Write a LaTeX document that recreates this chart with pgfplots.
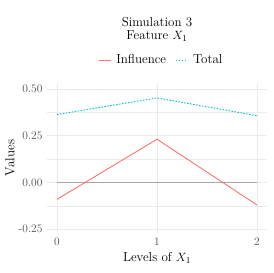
\documentclass[border=0pt]{standalone}
\usepackage{pgfplots}
\pgfplotsset{compat=1.18}
\definecolor{infl}{HTML}{F8766D}
\definecolor{tot}{HTML}{00BFC4}
\definecolor{gridc}{HTML}{EBEBEB}
\definecolor{tickc}{HTML}{4D4D4D}
\definecolor{zeroc}{HTML}{A6A6A6}
\begin{document}
\begin{tikzpicture}
\path[use as bounding box] (-47pt,-40pt) rectangle (226pt,233pt);
\begin{axis}[
  name=ax, at={(0,0)}, anchor=south west,
  scale only axis, width=220pt, height=150pt,
  xmin=-0.1, xmax=2.1, ymin=-0.271, ymax=0.532,
  xtick={0,1,2}, xticklabels={0,1,2},
  ytick={-0.25,0,0.25,0.5}, yticklabels={-0.25,0.00,0.25,0.50},
  minor ytick={-0.125,0.125,0.375},
  grid=both,
  major grid style={gridc, line width=0.9pt},
  minor grid style={gridc, line width=0.45pt},
  axis line style={draw=none},
  tick style={draw=none},
  tick label style={font=\fontsize{11.5}{13}\selectfont, text=tickc},
  xticklabel style={yshift=-1pt},
  yticklabel style={xshift=-1pt},
  xlabel={Levels of $X_1$},
  ylabel={Values},
  label style={font=\fontsize{13}{15}\selectfont},
  xlabel style={at={(axis description cs:0.5,-0.167)}, anchor=center},
  ylabel style={at={(axis description cs:-0.168,0.5)}, anchor=center},
  title={Simulation 3\\Feature $X_1$},
  title style={align=center, at={(axis description cs:0.5,1.318)}, anchor=center, font=\fontsize{13}{12.5}\selectfont},
  legend columns=2,
  legend style={at={(axis description cs:0.52,1.153)}, anchor=center, draw=none, fill=none,
    font=\fontsize{13}{15}\selectfont,
    /tikz/every odd column/.append style={column sep=3pt},
    /tikz/every even column/.append style={column sep=7pt}},
  legend image code/.code={\draw[#1] (0pt,0pt) -- (12pt,0pt);},
]
\addplot[zeroc, line width=1.3pt, forget plot] coordinates {(0,0) (2,0)};
\addplot[infl, line width=0.9pt] coordinates {(0,-0.091) (1,0.231) (2,-0.121)};
\addlegendentry{Influence}
\addplot[tot, line width=0.9pt, dash pattern=on 1.5pt off 1.5pt] coordinates {(0,0.363) (1,0.452) (2,0.357)};
\addlegendentry{Total}
\end{axis}
\end{tikzpicture}
\end{document}
